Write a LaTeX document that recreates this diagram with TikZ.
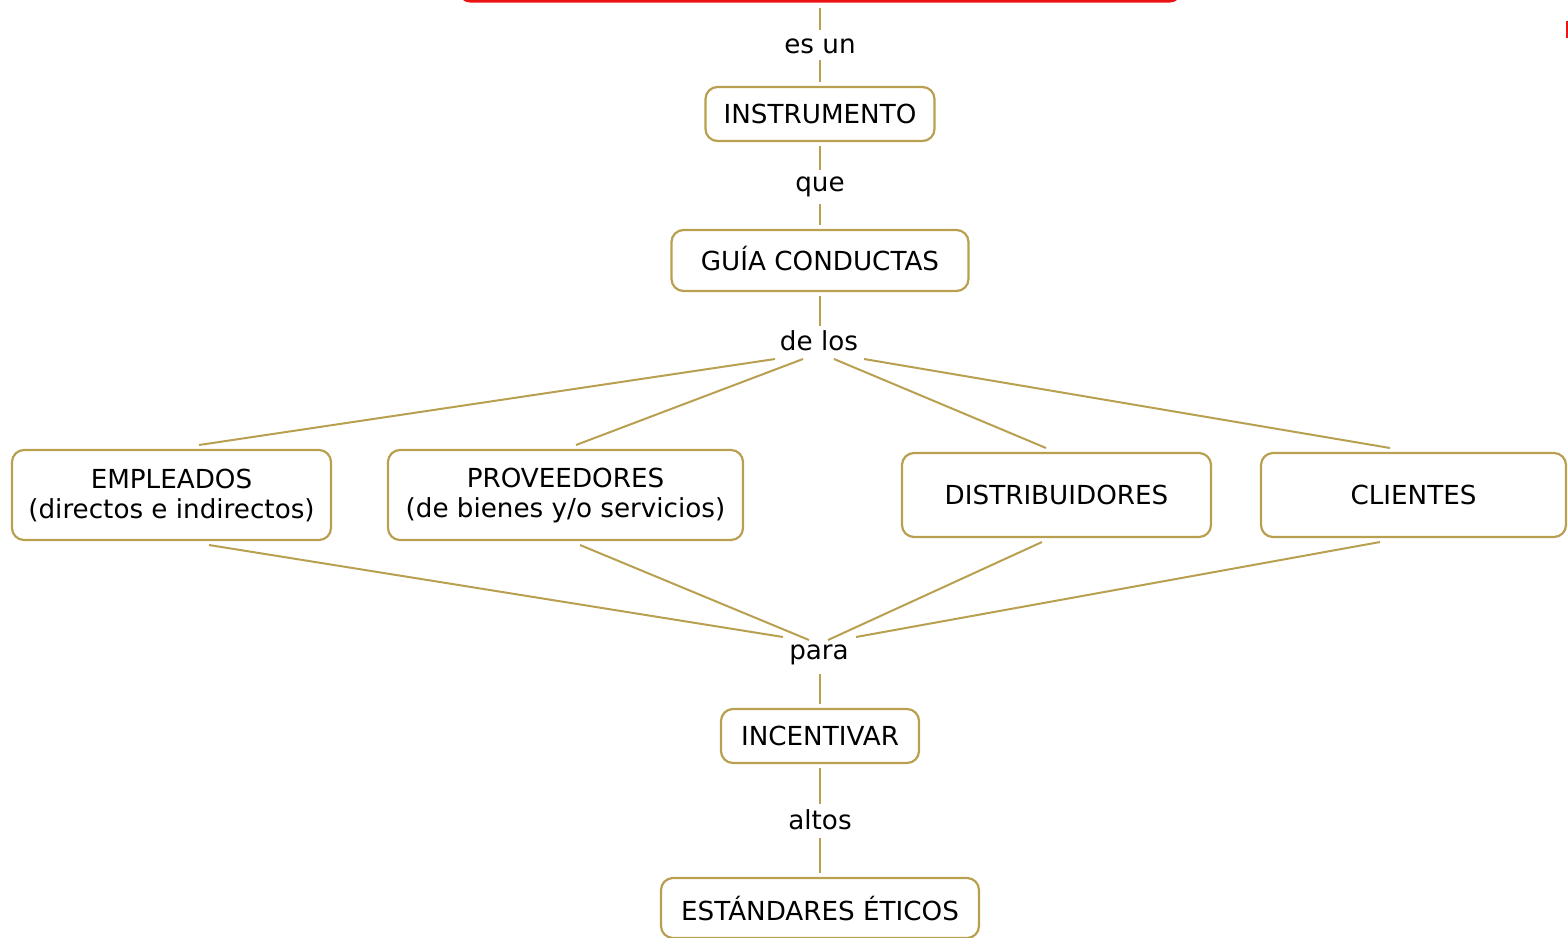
\documentclass[tikz,border=0pt]{standalone}
\usepackage{fontspec}
\setmainfont{DejaVu Sans}
\definecolor{gold}{RGB}{184,160,80}
\definecolor{redline}{RGB}{235,20,20}
\begin{document}
\begin{tikzpicture}[x=1pt,y=-1pt,
  every node/.style={font=\fontsize{26.2}{30}\selectfont},
  concept/.style={draw=gold, line width=2.2pt, rounded corners=12pt, fill=white, inner sep=0pt, outer sep=5pt, align=center},
  oneline/.style={text height=19pt, text depth=0pt},
  lbl/.style={inner sep=0pt, outer sep=0pt, minimum width=60pt},
  link/.style={draw=gold, line width=2pt}]
\useasboundingbox (0,0) rectangle (1568,937);
\clip (0,0) rectangle (1568,937);
% top red box (cut off)
\node[draw=redline, line width=3pt, rounded corners=10pt, minimum width=720pt, minimum height=60pt, inner sep=0pt] (top) at (820,-29) {};
\draw[redline, line width=2pt] (1567,21) -- (1567,38);
% labels
\node[lbl, text height=23pt, text depth=7pt] (esun) at (820,45) {es un};
\node[lbl, text height=21pt, text depth=13pt] (que) at (820,187) {que};
\node[lbl, text height=24pt, text depth=9pt] (delos) at (819,342.5) {de los};
\node[lbl, text height=19pt, text depth=15pt] (para) at (819,657) {para};
\node[lbl, text height=25pt, text depth=9pt] (altos) at (820,821) {altos};
% concepts
\node[concept, oneline, minimum width=229pt, minimum height=54pt] (instr) at (820,114) {INSTRUMENTO};
\node[concept, oneline, minimum width=297pt, minimum height=61pt] (guia) at (820,260.5) {GUÍA CONDUCTAS};
\node[concept, minimum width=319pt, minimum height=90pt] (emp) at (171.5,495) {EMPLEADOS\\(directos e indirectos)};
\node[concept, minimum width=355pt, minimum height=90pt] (prov) at (565.5,495) {PROVEEDORES\\(de bienes y/o servicios)};
\node[concept, oneline, minimum width=309pt, minimum height=84pt] (dist) at (1056.5,495) {DISTRIBUIDORES};
\node[concept, oneline, minimum width=305pt, minimum height=84pt] (cli) at (1413.5,495) {CLIENTES};
\node[concept, oneline, minimum width=198pt, minimum height=54pt] (inc) at (820,736) {INCENTIVAR};
\node[concept, text height=25pt, text depth=0pt, minimum width=318pt, minimum height=60pt] (est) at (820,908) {ESTÁNDARES ÉTICOS};
% links
\draw[link] ([yshift=-5pt]top.south) -- (esun.north);
\draw[link] (esun.south) -- (instr.north);
\draw[link] (instr.south) -- (que.north);
\draw[link] (que.south) -- (guia.north);
\draw[link] (guia.south) -- (guia.south |- delos.north);
\draw[link] ([xshift=-44pt]delos.south) -- ([xshift=27.5pt]emp.north);
\draw[link] ([xshift=-16pt]delos.south) -- ([xshift=10.5pt]prov.north);
\draw[link] ([xshift=15pt]delos.south) -- ([xshift=-10.5pt]dist.north);
\draw[link] ([xshift=45pt]delos.south) -- ([xshift=-23.5pt]cli.north);
\draw[link] ([xshift=37.5pt]emp.south) -- ([shift={(-36,-3)}]para.north);
\draw[link] ([xshift=14.5pt]prov.south) -- ([shift={(-10,0)}]para.north);
\draw[link] ([xshift=-14.5pt]dist.south) -- ([shift={(9,0)}]para.north);
\draw[link] ([xshift=-33.5pt]cli.south) -- ([shift={(37,-3)}]para.north);
\draw[link] (inc.north |- para.south) -- (inc.north);
\draw[link] (inc.south) -- (altos.north);
\draw[link] (altos.south) -- (est.north);
\end{tikzpicture}
\end{document}
